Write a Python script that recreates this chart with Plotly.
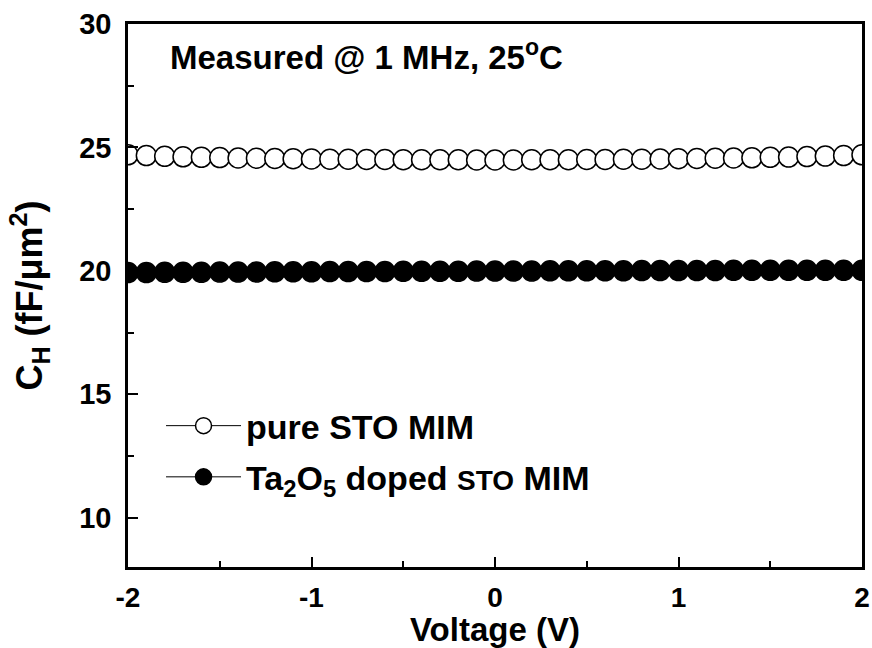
import plotly.graph_objects as go

voltage = [-2.0, -1.9, -1.8, -1.7, -1.6, -1.5, -1.4, -1.3, -1.2, -1.1, -1.0,
           -0.9, -0.8, -0.7, -0.6, -0.5, -0.4, -0.3, -0.2, -0.1, 0.0,
           0.1, 0.2, 0.3, 0.4, 0.5, 0.6, 0.7, 0.8, 0.9, 1.0,
           1.1, 1.2, 1.3, 1.4, 1.5, 1.6, 1.7, 1.8, 1.9, 2.0]

pure_sto = [24.70, 24.67, 24.64, 24.62, 24.60, 24.59, 24.57, 24.56, 24.55, 24.54, 24.53,
            24.52, 24.52, 24.51, 24.51, 24.50, 24.50, 24.50, 24.50, 24.49, 24.49,
            24.49, 24.50, 24.50, 24.50, 24.51, 24.51, 24.52, 24.52, 24.53, 24.54,
            24.55, 24.56, 24.57, 24.58, 24.60, 24.61, 24.63, 24.65, 24.67, 24.70]

doped_sto = [19.93, 19.93, 19.94, 19.94, 19.94, 19.95, 19.95, 19.95, 19.96, 19.96, 19.96,
             19.97, 19.97, 19.97, 19.97, 19.98, 19.98, 19.98, 19.98, 19.99, 19.99,
             19.99, 19.99, 20.00, 20.00, 20.00, 20.00, 20.00, 20.01, 20.01, 20.01,
             20.01, 20.01, 20.02, 20.02, 20.02, 20.02, 20.02, 20.02, 20.02, 20.02]

name_pure = "pure STO MIM"
name_doped = "Ta<sub>2</sub>O<sub>5</sub> doped <span style='font-size:28px'>STO</span> MIM"
x_ticks = [-2, -1, 0, 1, 2]
y_ticks = [10, 15, 20, 25, 30]

FONT = "Liberation Sans, Arial, sans-serif"

fig = go.Figure()
fig.add_trace(go.Scatter(
    x=voltage, y=pure_sto, mode="lines+markers", name=name_pure, legendgroup="a",
    line=dict(color="black", width=1),
    marker=dict(symbol="circle", size=20, color="white",
                line=dict(color="black", width=1.5)),
))
fig.add_trace(go.Scatter(
    x=voltage, y=doped_sto, mode="lines+markers", name=name_doped, legendgroup="b",
    line=dict(color="black", width=1),
    marker=dict(symbol="circle", size=20, color="black",
                line=dict(color="black", width=1.5)),
))

axis_common = dict(
    showline=True, linecolor="black", linewidth=2.5, mirror=True,
    ticks="inside", ticklen=10, tickwidth=2, tickcolor="black",
    showgrid=False, zeroline=False, automargin=False,
)

fig.update_xaxes(
    range=[-2, 2], tickvals=x_ticks, ticktext=[str(v) for v in x_ticks],
    ticklabelstandoff=4,
    tickfont=dict(family=FONT, size=28, color="black", weight="bold"),
    minor=dict(dtick=0.5, ticks="inside", ticklen=6, tickwidth=2, tickcolor="black"),
    title=dict(text="Voltage (V)", standoff=8,
               font=dict(family=FONT, size=33, color="black", weight="bold")),
    **axis_common,
)
fig.update_yaxes(
    range=[8, 30], tickvals=y_ticks, ticktext=[str(v) for v in y_ticks],
    ticklabelstandoff=8,
    tickfont=dict(family=FONT, size=29, color="black", weight="bold"),
    minor=dict(tick0=0, dtick=2.5, ticks="inside", ticklen=6, tickwidth=2, tickcolor="black"),
    title=dict(text="C<sub>H</sub> (fF/μm<sup>2</sup>)", standoff=26,
               font=dict(family=FONT, size=36, color="black", weight="bold")),
    **axis_common,
)

fig.add_annotation(
    xref="paper", yref="paper", x=0.055, y=0.942, xanchor="left", yanchor="middle",
    text="Measured @ 1 MHz, 25<sup>o</sup>C", showarrow=False,
    font=dict(family=FONT, size=33, color="black", weight="bold"),
)

fig.update_layout(
    width=872, height=648,
    margin=dict(l=128, r=10, t=24, b=81),
    plot_bgcolor="white", paper_bgcolor="white",
    showlegend=True,
    legend=dict(
        x=0.045, y=0.313, xanchor="left", yanchor="top",
        bgcolor="rgba(0,0,0,0)", borderwidth=0,
        font=dict(family=FONT, size=34, color="black", weight="bold"),
        itemwidth=75, tracegroupgap=4,
    ),
)

fig.write_html("out.html")
